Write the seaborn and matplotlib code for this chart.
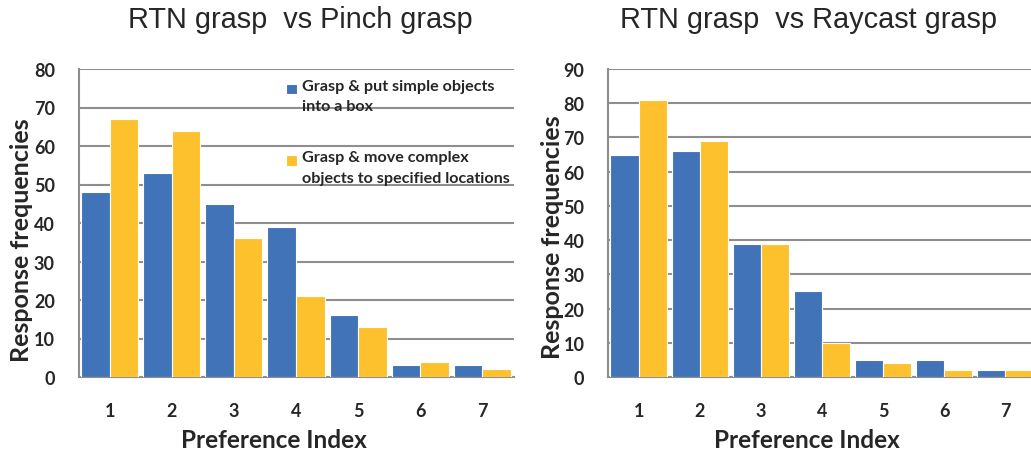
import matplotlib
matplotlib.use("Agg")
import matplotlib.pyplot as plt
from matplotlib.patches import Rectangle
from matplotlib.legend_handler import HandlerPatch
import seaborn as sns
import pandas as pd

# Preference index categories and response counts per task
pref_index = ["1", "2", "3", "4", "5", "6", "7"]
task_labels = ["Grasp & put simple objects\ninto a box",
               "Grasp & move complex\nobjects to specified locations"]

pinch_simple = [48, 53, 45, 39, 16, 3, 3]
pinch_complex = [67, 64, 36, 21, 13, 4, 2]

raycast_simple = [65, 66, 39, 25, 5, 5, 2]
raycast_complex = [81, 69, 39, 10, 4, 2, 2]

titles = ["RTN grasp  vs Pinch grasp", "RTN grasp  vs Raycast grasp"]
ymax = [80, 90]

colors = ["#4173B8", "#FEC12E"]
grid_gray = "#8E8E8E"

sns.set_theme(style="white")
plt.rcParams["font.family"] = ["Lato", "DejaVu Sans"]


def long_frame(simple, complex_):
    return pd.DataFrame({
        "Preference Index": pref_index * 2,
        "freq": simple + complex_,
        "task": [task_labels[0]] * len(simple) + [task_labels[1]] * len(complex_),
    })


def top_square(legend, orig_handle, xdescent, ydescent, width, height, fontsize):
    # small colour key next to the first line of a two-line label
    s = 0.66 * fontsize
    return Rectangle((-xdescent, -ydescent + height - s - 0.1 * fontsize), s, s)


fig = plt.figure(figsize=(10.31, 4.52), dpi=100)
W, H = 1031, 452
ax_boxes = [(78.5, 513.5), (608, 1036)]
top_px, bottom_px = 70, 378

frames = [long_frame(pinch_simple, pinch_complex),
          long_frame(raycast_simple, raycast_complex)]
title_x = [300, 809]
xlabel_x = [0.45, 0.465]
ylabel_pos = [(-0.104, 0.448), (-0.103, 0.458)]

for i, (df, (x0, x1)) in enumerate(zip(frames, ax_boxes)):
    ax = fig.add_axes([x0 / W, (H - bottom_px) / H, (x1 - x0) / W,
                       (bottom_px - top_px) / H])
    sns.barplot(data=df, x="Preference Index", y="freq", hue="task",
                palette=colors, saturation=1, width=0.92, ax=ax,
                edgecolor="white", linewidth=0.8, zorder=3)
    ax.set_xlim(-0.5, 6.5)
    ax.set_ylim(0, ymax[i])
    ax.set_yticks(range(0, ymax[i] + 1, 10))
    ax.yaxis.grid(True, color=grid_gray, linewidth=1.5, zorder=0)
    ax.set_axisbelow(True)
    for side in ["top", "right"]:
        ax.spines[side].set_visible(False)
    for side in ["left", "bottom"]:
        ax.spines[side].set_color(grid_gray)
        ax.spines[side].set_linewidth(1.5)
    ax.tick_params(axis="both", length=0, labelsize=13)
    ax.tick_params(axis="x", pad=18)
    ax.tick_params(axis="y", pad=17)
    for lab in ax.get_xticklabels() + ax.get_yticklabels():
        lab.set_fontweight("bold")
    ax.set_xlabel("Preference Index", fontsize=17.5, fontweight="bold")
    ax.set_ylabel("Response frequencies", fontsize=18, fontweight="bold")
    ax.xaxis.set_label_coords(xlabel_x[i], -0.165)
    ax.yaxis.set_label_coords(*ylabel_pos[i])
    fig.text(title_x[i] / W, 1 - 20 / H, titles[i], ha="center", va="center",
             fontsize=20.8, family=["Liberation Sans", "DejaVu Sans"])
    if i == 0:
        leg = ax.legend(loc="upper left", bbox_to_anchor=(0.455, 1.0),
                        frameon=False,
                        prop={"weight": "bold", "size": 11.6},
                        handlelength=0.7, handleheight=2.4, handletextpad=0.3,
                        labelspacing=2.3, borderaxespad=0.2,
                        handler_map={Rectangle: HandlerPatch(patch_func=top_square)})
        for t in leg.get_texts():
            t.set_linespacing(1.6)
    else:
        ax.get_legend().remove()

fig.savefig("out.png", dpi=100)
